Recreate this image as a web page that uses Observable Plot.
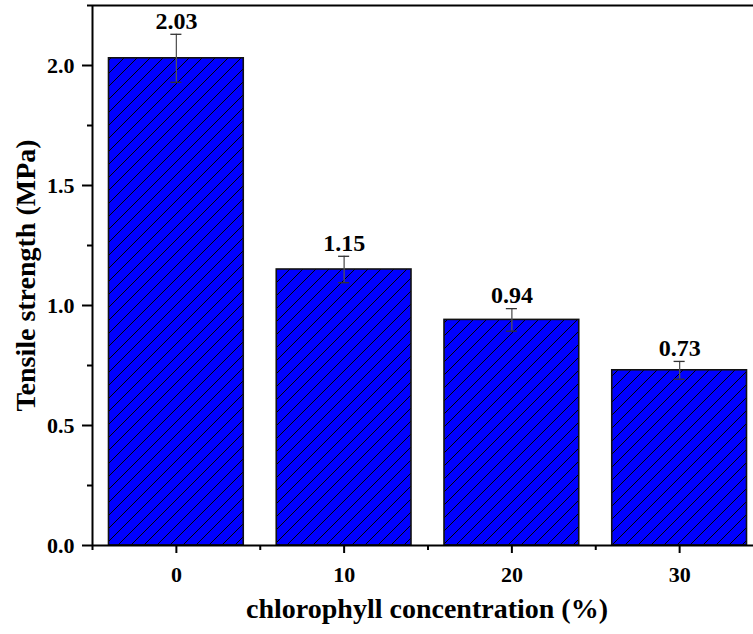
<!DOCTYPE html>
<html>
<head>
<meta charset="utf-8">
<script src="https://cdn.jsdelivr.net/npm/d3@7"></script>
<script src="https://cdn.jsdelivr.net/npm/@observablehq/plot@0.6"></script>
<style>
  html, body { margin: 0; padding: 0; background: #fff; overflow: hidden; }
  #chart svg { font-family: "Liberation Serif", "Times New Roman", serif; }
</style>
</head>
<body>
<div id="chart"></div>
<script>
// Tensile strength of films at each chlorophyll concentration
const concentrations = [0, 10, 20, 30];
const tensileStrength = [2.03, 1.15, 0.94, 0.73];
const strengthError = [0.10, 0.055, 0.047, 0.037];

// Axis ticks
const yMajorTicks = [0, 0.5, 1.0, 1.5, 2.0];
const yMinorTicks = [0.25, 0.75, 1.25, 1.75, 2.25];
const xMinorTicks = [-5, 5, 15, 25, 35];

const rows = concentrations.map((c, i) => ({
  conc: c,
  ts: tensileStrength[i],
  err: strengthError[i]
}));

const halfSlot = 5;   // each concentration occupies a 10-unit slot
const capHalf = 0.33; // half width of the error-bar caps, in x units
const bold = {fontFamily: "Liberation Serif", fontWeight: "bold", fill: "black"};

const chart = Plot.plot({
  width: 753,
  height: 634,
  marginLeft: 92,
  marginRight: 0,
  marginTop: 5,
  marginBottom: 89,
  style: {fontFamily: "Liberation Serif", background: "white", color: "black"},
  x: {type: "linear", domain: [-5, 35], range: [92, 763], label: null},
  y: {domain: [0, 2.25], label: null},
  marks: [
    // hatched bars
    Plot.rectY(rows, {
      x1: d => d.conc - halfSlot,
      x2: d => d.conc + halfSlot,
      y: "ts",
      insetLeft: 16.5,
      insetRight: 16.5,
      fill: "url(#hatch)",
      stroke: "#111",
      strokeWidth: 1.6
    }),
    // error bars
    Plot.ruleX(rows, {x: "conc", y1: d => d.ts - d.err, y2: d => d.ts + d.err, stroke: "#555", strokeWidth: 1.3}),
    Plot.ruleY(rows, {y: d => d.ts + d.err, x1: d => d.conc - capHalf, x2: d => d.conc + capHalf, stroke: "#333", strokeWidth: 1.3}),
    Plot.ruleY(rows, {y: d => d.ts - d.err, x1: d => d.conc - capHalf, x2: d => d.conc + capHalf, stroke: "#333", strokeWidth: 1.3}),
    // value labels
    Plot.text(rows, {
      x: "conc",
      y: d => d.ts + d.err,
      text: d => d.ts.toFixed(2),
      dy: -13,
      fontSize: 24,
      ...bold
    }),
    // frame lines
    Plot.ruleY([0, 2.25], {stroke: "black", strokeWidth: 2}),
    Plot.ruleX([-5], {stroke: "black", strokeWidth: 2}),
    // y axis
    Plot.axisY({
      ticks: yMajorTicks,
      tickSize: 10,
      tickPadding: 8,
      tickFormat: d3.format(".1f"),
      fontSize: 22,
      strokeWidth: 2,
      label: null,
      ...bold
    }),
    Plot.axisY({ticks: yMinorTicks, tickSize: 5, tickFormat: () => "", strokeWidth: 2, label: null}),
    // x axis
    Plot.axisX({
      ticks: concentrations,
      tickSize: 8,
      tickPadding: 13,
      tickFormat: d => String(d),
      fontSize: 22,
      strokeWidth: 2,
      label: null,
      ...bold
    }),
    Plot.axisX({ticks: xMinorTicks, tickSize: 5, tickFormat: () => "", strokeWidth: 2, label: null}),
    // axis titles
    Plot.text(["Tensile strength (MPa)"], {
      frameAnchor: "left",
      dx: -66,
      rotate: -90,
      textAnchor: "middle",
      lineAnchor: "middle",
      fontSize: 28,
      ...bold
    }),
    Plot.text(["chlorophyll concentration (%)"], {
      frameAnchor: "bottom",
      dx: 4,
      dy: 64,
      textAnchor: "middle",
      lineAnchor: "middle",
      fontSize: 28,
      ...bold
    })
  ]
});

// diagonal hatch fill for the bars
const svg = d3.select(chart);
const defs = svg.insert("defs", ":first-child");
const s = 13;
const pattern = defs.append("pattern")
  .attr("id", "hatch")
  .attr("patternUnits", "userSpaceOnUse")
  .attr("width", s)
  .attr("height", s);
pattern.append("rect").attr("width", s).attr("height", s).attr("fill", "#0000ff");
pattern.append("path")
  .attr("d", `M-1,1 L1,-1 M0,${s} L${s},0 M${s - 1},${s + 1} L${s + 1},${s - 1}`)
  .attr("stroke", "black")
  .attr("stroke-width", 1);

document.getElementById("chart").appendChild(chart);
</script>
</body>
</html>
